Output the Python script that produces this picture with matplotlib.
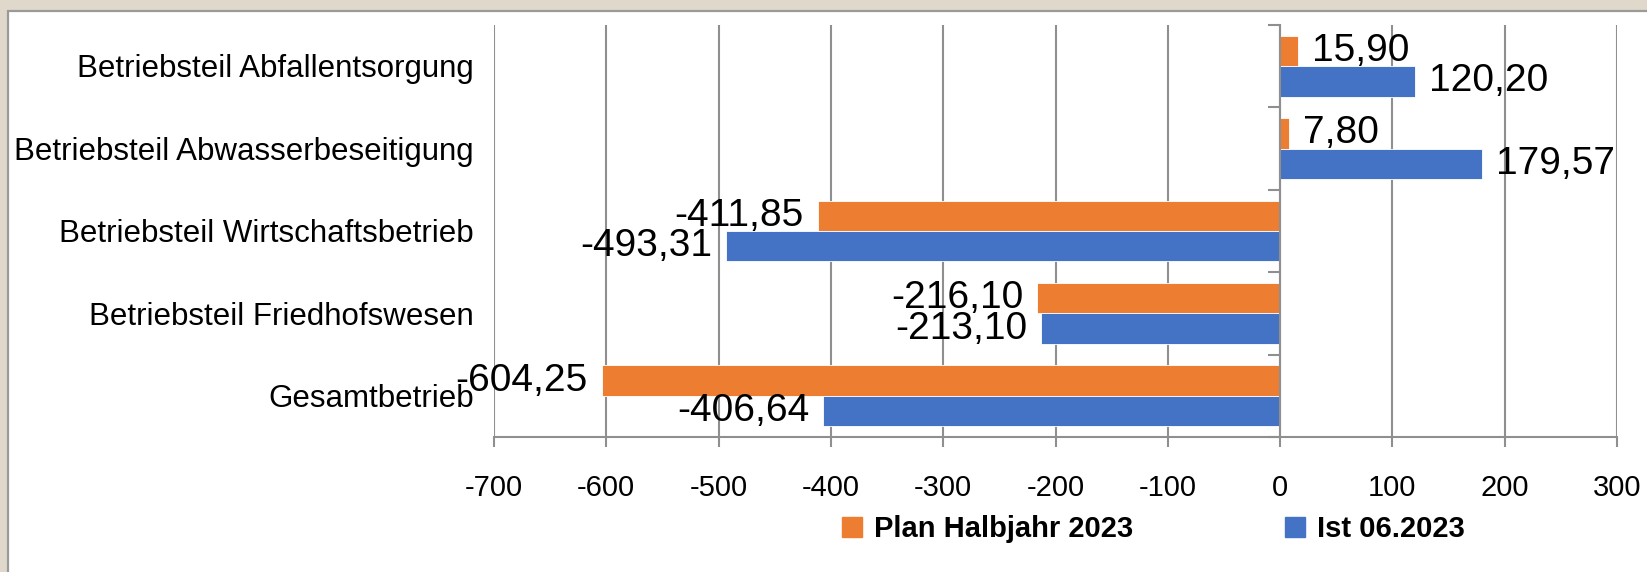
import numpy as np
import matplotlib.pyplot as plt
from matplotlib.patches import Patch, Rectangle
from matplotlib.transforms import blended_transform_factory

plt.rcParams['font.family'] = ['Liberation Sans', 'DejaVu Sans']

# Daten (unten -> oben, wie in Excel)
kategorien = ['Gesamtbetrieb', 'Betriebsteil Friedhofswesen',
              'Betriebsteil Wirtschaftsbetrieb', 'Betriebsteil Abwasserbeseitigung',
              'Betriebsteil Abfallentsorgung']
plan = [-604.25, -216.10, -411.85, 7.80, 15.90]
ist = [-406.64, -213.10, -493.31, 179.57, 120.20]
serien = ['Plan Halbjahr 2023', 'Ist 06.2023']
x_ticks = list(range(-700, 301, 100))

orange = '#ED7D31'
blau = '#4472C4'
grau = '#8F8F8F'

W, H = 1647, 572
fig = plt.figure(figsize=(W / 100, H / 100), dpi=100)

# gestreifter Rand + Rahmen
plt.rcParams['hatch.color'] = '#E0D9CB'
plt.rcParams['hatch.linewidth'] = 1.0
bg = Rectangle((0, 0), 1, 1, transform=fig.transFigure, facecolor='white',
               hatch='|' * 12, edgecolor='#E0D9CB', linewidth=0, zorder=-10)
fig.patches.append(bg)
rahmen = Rectangle((8 / W, -0.1), 1.2, (H - 11) / H + 0.1, transform=fig.transFigure,
                   facecolor='white', edgecolor='#9A9A9A', linewidth=1.6, zorder=-5)
fig.patches.append(rahmen)

ax = fig.add_axes([494 / W, 1 - 437 / H, (1617 - 494) / W, (437 - 25) / H])
ax.set_facecolor('none')

y = np.arange(len(kategorien))
h = 0.37
b1 = ax.barh(y + h / 2, plan, height=h, color=orange, edgecolor='white', linewidth=0.6, zorder=3)
b2 = ax.barh(y - h / 2, ist, height=h, color=blau, edgecolor='white', linewidth=0.6, zorder=3)

fmt = lambda v: f'{v:.2f}'.replace('.', ',')
ax.bar_label(b1, labels=[fmt(v) for v in plan], padding=10, fontsize=28, zorder=4)
ax.bar_label(b2, labels=[fmt(v) for v in ist], padding=10, fontsize=28, zorder=4)

ax.set_xlim(-700, 300)
ax.set_ylim(-0.5, len(kategorien) - 0.5)
ax.set_xticks(x_ticks)
ax.set_xticklabels([str(t) for t in x_ticks], fontsize=21)
ax.tick_params(axis='x', length=7, width=1.5, color=grau, pad=20)
ax.grid(axis='x', color=grau, linewidth=1.5, zorder=0)

# Kategorieachse bei x=0
ax.spines['left'].set_position(('data', 0))
ax.spines['left'].set_color(grau)
ax.spines['left'].set_linewidth(1.5)
ax.spines['left'].set_zorder(5)
ax.spines['bottom'].set_color(grau)
ax.spines['bottom'].set_linewidth(1.5)
ax.spines['top'].set_visible(False)
ax.spines['right'].set_visible(False)
ax.set_yticks(np.arange(-0.5, len(kategorien), 1))
ax.set_yticklabels([])
ax.tick_params(axis='y', length=8.5, width=1.5, color=grau)

tr = blended_transform_factory(ax.transAxes, ax.transData)
for yi, name in zip(y, kategorien):
    ax.text(-20 / 1123, yi - 0.04, name, transform=tr, ha='right', va='center', fontsize=22.5)

handles = [Patch(color=orange), Patch(color=blau)]
fig.legend(handles, serien, loc='center', bbox_to_anchor=(1153 / W, 1 - 529 / H),
           ncol=2, frameon=False, prop={'size': 21, 'weight': 'bold'},
           handlelength=0.7, handleheight=0.7, handletextpad=0.4, columnspacing=5.2)

fig.savefig('out.png', dpi=100)
